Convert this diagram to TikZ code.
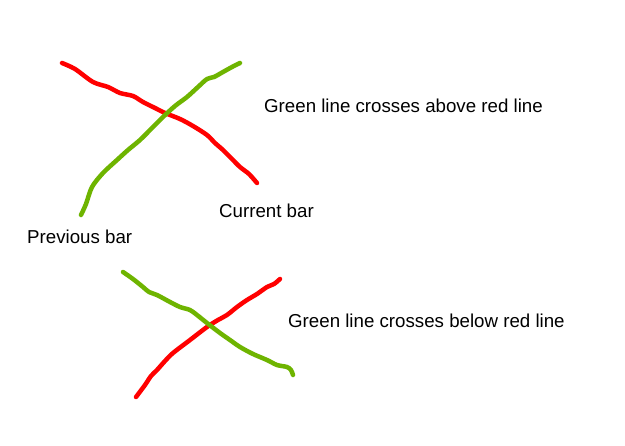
\documentclass[tikz,border=0pt]{standalone}
\usepackage{fontspec}
\setmainfont{Liberation Sans}
\usetikzlibrary{positioning}
\definecolor{barRed}{RGB}{255,0,0}
\definecolor{barGreen}{RGB}{110,180,0}
\tikzset{
    base/.style={font=\fontsize{18.7}{22}\selectfont, inner sep=0pt, anchor=base west},
    redline/.style={barRed, line width=4.5pt, line cap=round, line join=round},
    greenline/.style={barGreen, line width=4.5pt, line cap=round, line join=round}
}
\begin{document}
\begin{tikzpicture}[x=1pt, y=-1pt]
  \useasboundingbox[fill=white] (0,0) rectangle (625,446);

  % upper cross: green goes above red
  \draw[redline] plot[smooth, tension=0.5] coordinates {
    (62,63) (75,69) (93,82) (108,87) (120,93) (133,96) (143,102) (155,108)
    (165,113) (180,119) (193,126) (207,135) (215,143) (223,150) (232,159)
    (240,167) (249,174) (257,183)};
  \draw[greenline] plot[smooth, tension=0.5] coordinates {
    (81,215) (86,204) (92,187) (103,173) (117,160) (128,150) (140,140)
    (152,128) (163,117) (175,106) (187,97) (198,87) (207,79) (214,77)
    (223,72) (232,67) (240,63)};

  % lower cross: green goes below red
  \draw[redline] plot[smooth, tension=0.5] coordinates {
    (136,397) (145,385) (151,376) (157,370) (165,361) (173,353) (190,340)
    (207,327) (218,320) (227,315) (237,307) (247,300) (257,294) (267,287)
    (274,284) (280,279)};
  \draw[greenline] plot[smooth, tension=0.5] coordinates {
    (123,272) (133,279) (143,287) (149,292) (157,295) (170,302) (180,307)
    (190,310) (197,315) (207,323) (220,333) (230,340) (240,347) (253,354)
    (267,360) (277,365) (287,367) (291,370) (293,375)};

  % labels
  \node[base] (aboveTxt) at (264,113) {Green line crosses above red line};
  \node[base] (curTxt) at (219,218) {Current bar};
  \node[base] (prevTxt) at (27,244) {Previous bar};
  \node[base] (belowTxt) at (288,328) {Green line crosses below red line};
\end{tikzpicture}
\end{document}
